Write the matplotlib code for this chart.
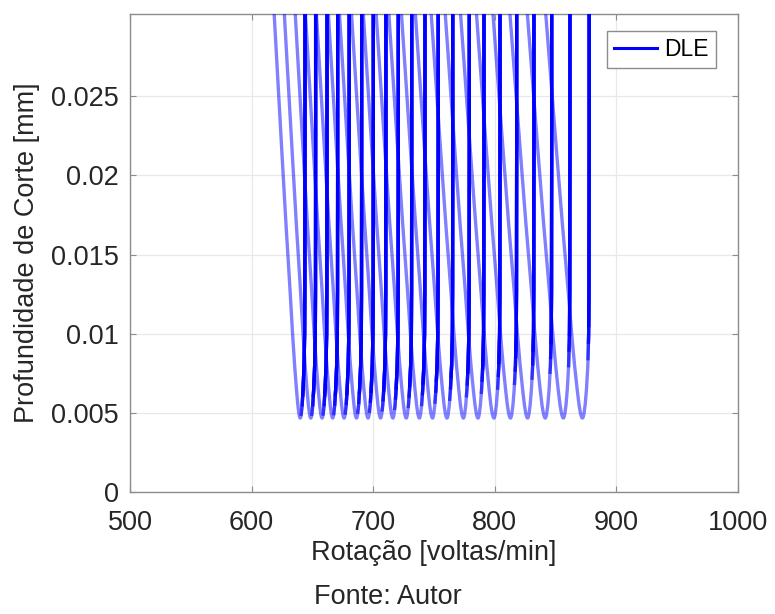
import numpy as np
import matplotlib
matplotlib.use("Agg")
import matplotlib.pyplot as plt
from matplotlib.lines import Line2D

plt.rcParams['font.family'] = ['Liberation Sans', 'DejaVu Sans']

# ---- data ----
# rotation (rpm) of the minimum of each stability lobe
lobe_min_rpm = [640.0, 648.7, 658.0, 666.7, 676.1, 686.3, 695.8, 706.1, 716.2, 727.2,
                738.0, 748.8, 760.7, 774.2, 786.2, 799.3, 812.9, 827.0, 841.5, 856.4, 872.1]
# relative width of each lobe (last lobe = 1)
lobe_scale = [0.710, 0.721, 0.732, 0.743, 0.755, 0.767, 0.779, 0.792, 0.805, 0.819,
              0.832, 0.846, 0.861, 0.877, 0.892, 0.909, 0.926, 0.944, 0.962, 0.981, 1.000]
min_depth = 0.00467  # mm
# lobe profile (last lobe), depth levels [mm] and rpm offsets from the minimum
prof_depth = [0.00467, 0.00470, 0.00480, 0.00490, 0.00500, 0.00550, 0.00650, 0.00800,
              0.01000, 0.01275, 0.01700, 0.02160, 0.02590, 0.03020, 0.03200]
prof_left = [0.0, -0.5, -1.0, -1.4, -1.7, -2.8, -4.4, -6.5,
             -8.9, -11.8, -16.6, -21.4, -25.8, -30.2, -32.0]
prof_right = [0.0, 0.4, 0.8, 1.1, 1.3, 2.2, 3.3, 4.4,
              5.1, 5.35, 5.4, 5.5, 5.5, 5.5, 5.5]

xticks = [500, 600, 700, 800, 900, 1000]
yticks = [0, 0.005, 0.01, 0.015, 0.02, 0.025]
ytick_labels = ['0', '0.005', '0.01', '0.015', '0.02', '0.025']

# ---- figure ----
fig = plt.figure(figsize=(7.75, 6.14), dpi=100)
ax = fig.add_axes([130/775, 1-492/614, 608/775, 478/614])

LW = 2.4
light = (0, 0, 1, 0.5)
pd = np.array(prof_depth)
pl = np.array(prof_left)
pr = np.array(prof_right)
for m, s in zip(lobe_min_rpm, lobe_scale):
    xs = np.concatenate([m + s*pl[::-1], m + s*pr[1:]])
    ys = np.concatenate([pd[::-1], pd[1:]])
    ax.plot(xs, ys, color=light, lw=LW, solid_joinstyle='round', solid_capstyle='butt', zorder=3)
    thr = 0.0060 + 0.0044*((s - 0.71)/0.29)**2
    for f, a in [(0.8, 0.62), (0.9, 0.75), (1.0, 1.0)]:
        sel = pd >= thr*f
        d2 = np.concatenate([[thr*f], pd[sel]])
        x2 = m + s*np.interp(d2, pd, pr)
        ax.plot(x2, d2, color=(0, 0, 1, a), lw=LW, solid_capstyle='butt',
                solid_joinstyle='round', zorder=4)

ax.set_xlim(500, 1000)
ax.set_ylim(0, 0.0302)
ax.set_xticks(xticks)
ax.set_yticks(yticks)
ax.set_yticklabels(ytick_labels)
ax.grid(True, color='#e8e8e8', lw=0.9, zorder=0)
ax.set_axisbelow(True)
for sp in ax.spines.values():
    sp.set_color('#8c8c8c')
    sp.set_linewidth(1.0)
ax.tick_params(direction='in', length=4.3, width=0.8, color='#8c8c8c',
               top=True, right=True, labelsize=19.5, labelcolor='#262626')
ax.tick_params(axis='x', pad=13)
ax.tick_params(axis='y', pad=8)
ax.set_xlabel('Rotação [voltas/min]', fontsize=19.5, color='#262626', labelpad=3)
ax.set_ylabel('Profundidade de Corte [mm]', fontsize=19.5, color='#262626', labelpad=8)

h = Line2D([], [], color='blue', lw=2.2)
leg = ax.legend([h], ['DLE'], loc='upper right', bbox_to_anchor=(0.9638, 0.9644),
                borderaxespad=0, fontsize=16.5, fancybox=False, framealpha=1,
                edgecolor='#8c8c8c', handlelength=1.85, handletextpad=0.35,
                borderpad=0.3)
leg.get_frame().set_linewidth(1.0)

fig.text(0.5, 1-597/614, 'Fonte: Autor', ha='center', va='center', fontsize=19.5, color='#262626')

fig.savefig('out.png', dpi=100)
